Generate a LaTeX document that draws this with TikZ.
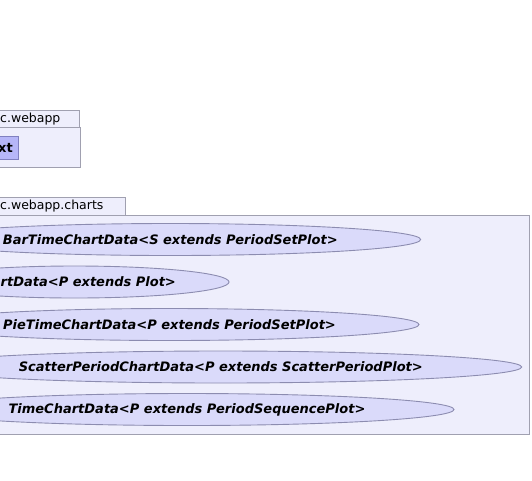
\documentclass[tikz,border=0pt]{standalone}
\usepackage{fontspec}
\setmainfont{DejaVu Sans}
\usepackage{xcolor}
\usetikzlibrary{shapes.geometric, positioning}

\definecolor{pkgfill}{RGB}{238,238,252}
\definecolor{pkgline}{RGB}{160,160,176}
\definecolor{ucfill}{RGB}{218,218,250}
\definecolor{ucline}{RGB}{140,140,176}
\definecolor{clsfill}{RGB}{182,182,248}
\definecolor{clsline}{RGB}{128,128,192}

\begin{document}
\begin{tikzpicture}[x=1pt, y=1pt,
    pkg/.style={draw=pkgline, fill=pkgfill, line width=0.9pt},
    pkgname/.style={font=\fontsize{12.5}{14}\selectfont, inner sep=0pt, anchor=west},
    datacls/.style={ellipse, draw=ucline, fill=ucfill, line width=0.9pt, inner sep=0pt,
        minimum height=32pt, font=\fontsize{13}{15}\selectfont\bfseries\itshape},
    plaincls/.style={draw=clsline, fill=clsfill, line width=0.9pt}]
    \useasboundingbox (0,0) rectangle (532,-480);
    \clip (0,0) rectangle (532,-480);

    % package webapp
    \draw [pkg] (-100,-110.5) rectangle (79,-127.5);
    \draw [pkg] (-100,-127.5) rectangle (80.3,-167.3);
    \node [pkgname] (webappname) at (0,-119) {c.webapp};
    \draw [plaincls] (-60,-136) rectangle (18.7,-159.3);
    \node [font=\fontsize{13}{15}\selectfont\bfseries, inner sep=0pt, anchor=east] (ctxcls) at (13,-147.5) {xt};

    % package webapp.charts
    \draw [pkg] (-100,-197.3) rectangle (125,-215);
    \draw [pkg] (-100,-215) rectangle (529.3,-434);
    \node [pkgname] (chartsname) at (0,-206) {c.webapp.charts};

    \node [datacls, minimum width=500.7pt] (barchart) at (170.3,-239.5) {BarTimeChartData<S extends PeriodSetPlot>};
    \node [datacls, minimum width=309pt] (chartdata) at (74.5,-282) {ChartData<P extends Plot>};
    \node [datacls, minimum width=499pt] (piechart) at (169.5,-324.5) {PieTimeChartData<P extends PeriodSetPlot>};
    \node [datacls, minimum width=601.7pt] (scatterchart) at (220.8,-367) {ScatterPeriodChartData<P extends ScatterPeriodPlot>};
    \node [datacls, minimum width=534pt] (timechart) at (187,-409.5) {TimeChartData<P extends PeriodSequencePlot>};
\end{tikzpicture}
\end{document}
